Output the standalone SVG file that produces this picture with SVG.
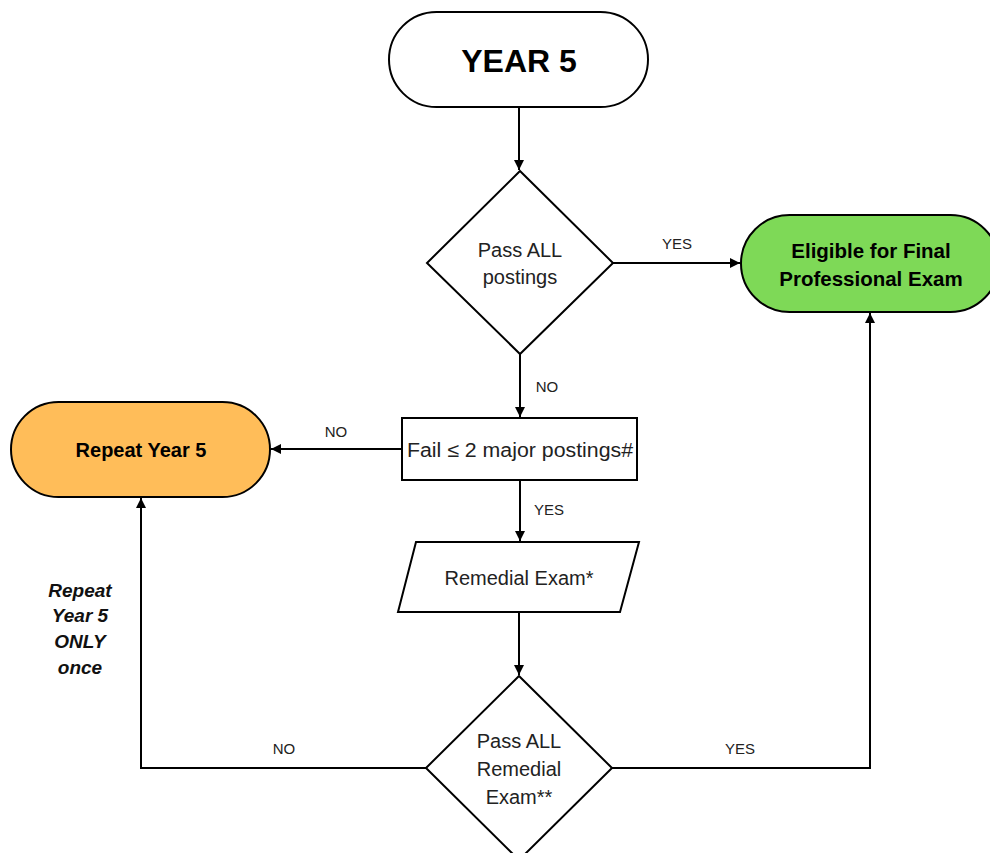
<svg xmlns="http://www.w3.org/2000/svg" width="990" height="853" viewBox="0 0 990 853">
<style>
.shape{stroke:#000;stroke-width:2;fill:#fff}
.t{font-family:"Liberation Sans",Arial,sans-serif;font-size:19px;fill:#222;text-anchor:middle;dominant-baseline:central}
.b{font-weight:bold;fill:#000}
.lbl{font-family:"Liberation Sans",Arial,sans-serif;font-size:15px;fill:#222;text-anchor:middle;dominant-baseline:central}
.conn{stroke:#000;stroke-width:2;fill:none}
.note{font-family:"Liberation Sans",Arial,sans-serif;font-size:19px;font-weight:bold;font-style:italic;fill:#111;text-anchor:middle;dominant-baseline:central}
</style>
<defs>
<marker id="ah" viewBox="0 0 10 10" refX="10" refY="5" markerWidth="5" markerHeight="5" orient="auto" markerUnits="strokeWidth">
<path d="M0,0 L10,5 L0,10 z" fill="#000"/>
</marker>
</defs>
<rect width="990" height="853" fill="#fff"/>
<g id="connectors">
<line class="conn" x1="519" y1="107" x2="519" y2="170" marker-end="url(#ah)"/>
<line class="conn" x1="613" y1="263" x2="740" y2="263" marker-end="url(#ah)"/>
<line class="conn" x1="520" y1="354" x2="520" y2="417" marker-end="url(#ah)"/>
<line class="conn" x1="402" y1="449" x2="271" y2="449" marker-end="url(#ah)"/>
<line class="conn" x1="520" y1="480" x2="520" y2="541" marker-end="url(#ah)"/>
<line class="conn" x1="519" y1="612" x2="519" y2="675" marker-end="url(#ah)"/>
<polyline class="conn" points="426,768 141,768 141,498" marker-end="url(#ah)"/>
<polyline class="conn" points="612,768 870,768 870,313" marker-end="url(#ah)"/>
<text class="lbl" x="677" y="243">YES</text>
<text class="lbl" x="547" y="386">NO</text>
<text class="lbl" x="336" y="431">NO</text>
<text class="lbl" x="549" y="509">YES</text>
<text class="lbl" x="284" y="748">NO</text>
<text class="lbl" x="740" y="748">YES</text>
</g>
<g id="start">
<rect class="shape" x="389" y="12" width="259" height="95" rx="47.5"/>
<text class="t b" x="519" y="61" style="font-size:32px">YEAR 5</text>
</g>
<g id="decision1">
<polygon class="shape" points="520,171 613,263 520,354 427,263"/>
<text class="t" x="520" y="250" style="font-size:20px">Pass ALL</text>
<text class="t" x="520" y="277" style="font-size:20px">postings</text>
</g>
<g id="eligible">
<rect class="shape" x="741" y="215" width="258" height="97" rx="48.5" style="fill:#7ED957"/>
<text class="t b" x="871" y="250" style="font-size:20.5px">Eligible for Final</text>
<text class="t b" x="871" y="278" style="font-size:20.5px">Professional Exam</text>
</g>
<g id="fail">
<rect class="shape" x="402" y="418" width="235" height="62"/>
<text class="t" x="520" y="450" textLength="226" lengthAdjust="spacingAndGlyphs" style="font-size:20px">Fail ≤ 2 major postings#</text>
</g>
<g id="repeat">
<rect class="shape" x="11" y="402" width="259" height="95" rx="47.5" style="fill:#FFBD59"/>
<text class="t b" x="141" y="450" style="font-size:20px">Repeat Year 5</text>
</g>
<g id="remedial">
<polygon class="shape" points="416,542 639,542 620,612 398,612"/>
<text class="t" x="519" y="578" style="font-size:20px">Remedial Exam*</text>
</g>
<g id="decision2">
<polygon class="shape" points="519,676 612,768 519,860 426,768"/>
<text class="t" x="519" y="741" style="font-size:20px">Pass ALL</text>
<text class="t" x="519" y="769" style="font-size:20px">Remedial</text>
<text class="t" x="519" y="797" style="font-size:20px">Exam**</text>
</g>
<g id="note">
<text class="note" x="80" y="590">Repeat</text>
<text class="note" x="80" y="615">Year 5</text>
<text class="note" x="80" y="641">ONLY</text>
<text class="note" x="80" y="667">once</text>
</g>
</svg>
